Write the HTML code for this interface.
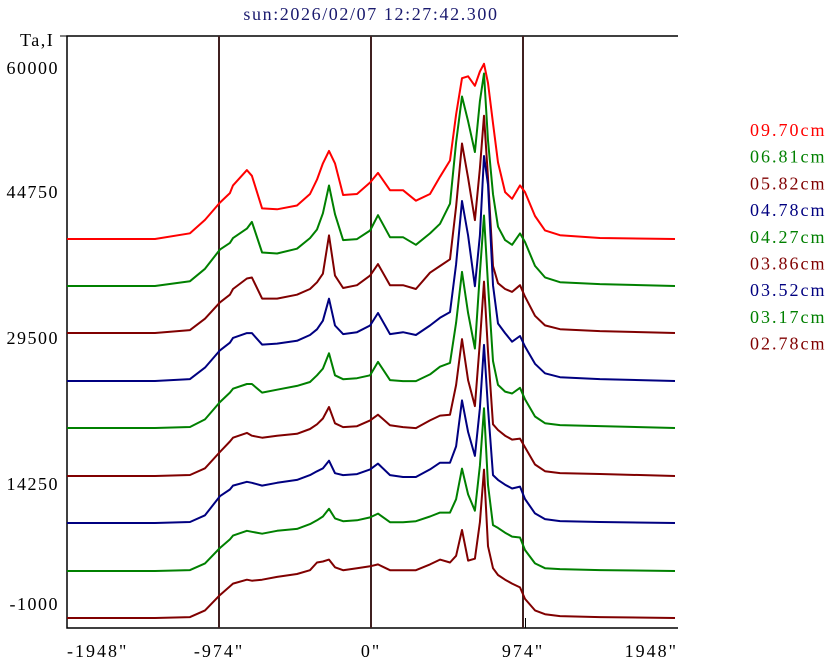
<!DOCTYPE html>
<html><head><meta charset="utf-8"><style>
html,body{margin:0;padding:0;background:#fff;}
svg{display:block;font-family:"Liberation Serif",serif;}
</style></head><body>
<svg id="chart" width="826" height="662" viewBox="0 0 826 662">
<text x="371" y="20" text-anchor="middle" font-size="18" letter-spacing="1.6" fill="#1a1a6e">sun:2026/02/07 12:27:42.300</text>
<text x="20" y="46" font-size="18" letter-spacing="1.5" fill="#000">Ta,I</text>
<g id="axes"></g>
<g id="series"></g>
<g id="legend"></g>
</svg>
<script>
const xs=[-1948,-1384,-1160,-1064,-968,-904,-884,-795,-763,-698,-602,-474,-391,-346,-308,-269,-231,-179,-90,-6,45,122,205,288,378,442,506,545,583,622,666,698,724,750,782,814,859,904,955,987,1051,1115,1211,1467,1948];
const labels=["09.70cm","06.81cm","05.82cm","04.78cm","04.27cm","03.86cm","03.52cm","03.17cm","02.78cm"];
const colors=["#ff0000","#008000","#800000","#000080","#008000","#800000","#000080","#008000","#800000"];
const offsets=[39840,34930,30020,25010,20100,15090,10180,5160,250];
// values in units of 100 K
const s970=[0,0,6,20,38,48,56,72,66,32,31,35,47,62,79,92,79,46,47,59,69,51,51,40,47,65,82,130,168,170,160,175,183,163,121,80,49,42,56,49,24,9,4,1,0];
const s681=[0,0,5,18,38,45,50,60,67,35,34,39,50,59,76,105,75,48,49,58,74,51,51,43,55,65,86,150,198,172,140,193,222,152,96,62,48,43,55,46,21,9,4,2,0];
const s582=[0,0,3,15,32,40,46,57,58,36,36,40,46,53,62,102,60,47,50,60,72,50,50,46,63,70,77,132,198,162,118,172,227,162,70,52,46,43,50,38,18,8,4,2,0];
const s478=[0,0,2,14,32,40,45,50,50,38,39,42,48,54,63,86,58,49,51,58,71,49,51,48,58,66,72,122,188,152,99,152,235,205,100,60,50,41,47,36,18,8,4,2,0];
const s427=[0,0,1,9,27,37,41,46,46,37,40,44,48,55,62,78,55,51,52,55,69,50,49,49,56,64,68,110,163,120,83,162,222,150,70,45,38,36,42,30,12,5,3,2,0];
const s386=[0,0,1,8,25,36,40,45,42,40,42,44,49,54,60,72,55,51,52,58,64,53,51,50,58,63,64,95,143,100,73,140,203,130,54,48,42,38,39,30,12,5,3,2,0];
const s352=[0,0,1,8,28,35,39,43,42,39,42,45,50,54,57,65,52,50,51,56,62,50,48,48,56,63,63,80,128,95,70,120,186,120,50,45,40,36,38,25,10,4,2,1,0];
const s317=[0,0,1,8,24,33,37,42,41,39,42,44,49,53,57,65,55,52,53,56,60,51,51,52,57,61,61,75,107,80,63,110,170,90,48,45,40,36,35,22,8,3,2,1,0];
const s278=[0,0,1,8,24,33,36,40,39,40,43,46,50,58,59,61,53,50,52,54,56,50,50,50,56,61,58,65,92,60,62,100,155,75,52,45,40,36,32,20,8,4,2,1,0];
const seriesVals=[s970,s681,s582,s478,s427,s386,s352,s317,s278];
const yTicks=[60000,44750,29500,14250,-1000];
const xTicks=[-1948,-974,0,974,1948];
const xTickLabels=["-1948\"","-974\"","0\"","974\"","1948\""];
const vLines=[-974,0,974];

const NS="http://www.w3.org/2000/svg";
function xS(a){return 371+a*152/974;}
function yS(v){return 630-(v+1000)*146/15250;}
function mk(tag,attrs,parent){const e=document.createElementNS(NS,tag);for(const k in attrs)e.setAttribute(k,attrs[k]);parent.appendChild(e);return e;}
const axes=document.getElementById('axes');
const frame=mk('path',{d:'M678,628 L67,628 L67,36 L678,36',fill:'none',stroke:'#000','stroke-width':1.5},axes);


mk('line',{x1:60,y1:36,x2:67,y2:36,stroke:'#000'},axes);
mk('line',{x1:525.5,y1:618,x2:525.5,y2:628,stroke:'#000'},axes);
vLines.forEach(v=>{
  const l=mk('line',{x1:xS(v),y1:36,x2:xS(v),y2:628,stroke:'#402020','stroke-width':2},axes);
  
  
});
yTicks.forEach(v=>{
  let y=yS(v)+6; y=Math.max(74,Math.min(610,y));
  const t=mk('text',{x:59,y:y,'text-anchor':'end','font-size':18,'letter-spacing':1.5,fill:'#000'},axes);
  t.textContent=v;
  
  
});
xTicks.forEach((v,i)=>{
  let x=xS(v), anchor='middle';
  if(i===0){x=67;anchor='start';}
  if(i===xTicks.length-1){x=678;anchor='end';}
  const t=mk('text',{x:x,y:657,'text-anchor':anchor,'font-size':18,'letter-spacing':2,fill:'#000'},axes);
  t.textContent=xTickLabels[i];
  
  
});
const sg=document.getElementById('series');
seriesVals.forEach((vals,i)=>{
  const pts=vals.map((v,j)=>xS(xs[j]).toFixed(1)+','+yS(v*100+offsets[i]).toFixed(1)).join(' ');
  const p=mk('polyline',{points:pts,fill:'none',stroke:colors[i],'stroke-width':2,'stroke-linejoin':'round'},sg);
  
  
});
const lg=document.getElementById('legend');
labels.forEach((l,i)=>{
  const t=mk('text',{x:750,y:136+i*26.7,'font-size':18,'letter-spacing':2,fill:colors[i]},lg);
  t.textContent=l;
  
  
});
</script>
</body></html>
